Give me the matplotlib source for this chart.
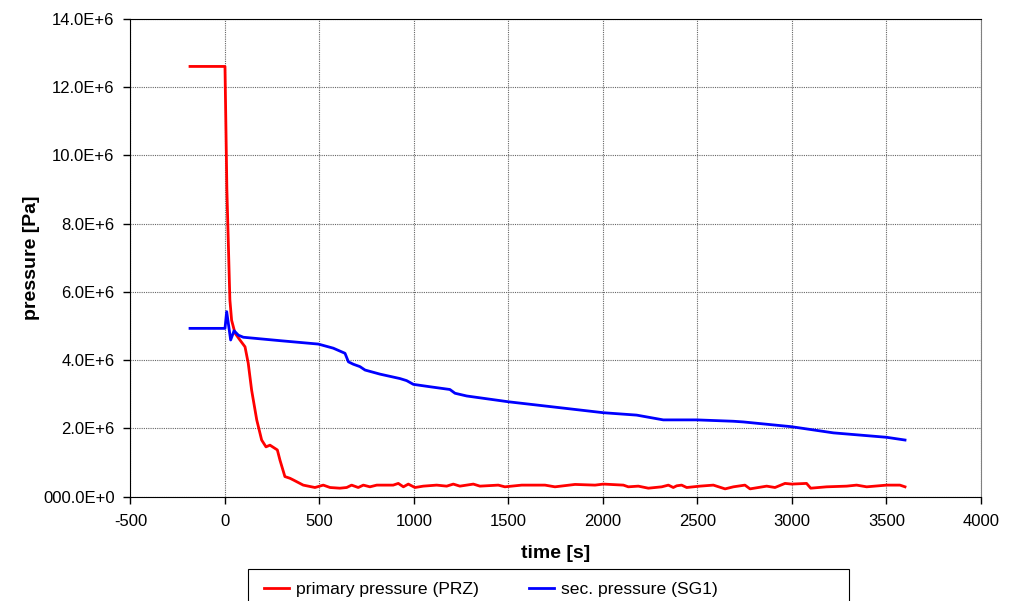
import matplotlib
matplotlib.use("Agg")
import matplotlib.pyplot as plt
from matplotlib.patches import Rectangle

plt.rcParams['font.family'] = ['Liberation Sans', 'DejaVu Sans']

# primary pressure (PRZ), time [s] / pressure [Pa]
prz_time = [-185, 0, 10, 23, 26, 35, 53, 79, 106, 123, 141, 168, 194, 217, 238,
            277, 291, 317, 344, 362, 414, 476, 520, 556, 608, 644, 670, 705, 732,
            767, 803, 855, 890, 917, 944, 970, 1005, 1049, 1120, 1173, 1208, 1243,
            1314, 1349, 1446, 1481, 1570, 1693, 1746, 1852, 1958, 2002, 2108, 2134,
            2187, 2240, 2311, 2346, 2372, 2390, 2416, 2443, 2513, 2584, 2646, 2690,
            2751, 2778, 2866, 2910, 2963, 2998, 3077, 3099, 3183, 3289, 3342, 3395,
            3501, 3571, 3598]
prz_pres = [12.6e6, 12.6e6, 9.0e6, 6.34e6, 5.76e6, 5.17e6, 4.79e6, 4.59e6, 4.39e6,
            3.91e6, 3.12e6, 2.25e6, 1.66e6, 1.46e6, 1.51e6, 1.37e6, 1.07e6, 0.59e6,
            0.54e6, 0.49e6, 0.34e6, 0.27e6, 0.34e6, 0.27e6, 0.25e6, 0.27e6, 0.34e6,
            0.27e6, 0.34e6, 0.29e6, 0.34e6, 0.34e6, 0.34e6, 0.39e6, 0.29e6, 0.37e6,
            0.27e6, 0.31e6, 0.34e6, 0.31e6, 0.37e6, 0.31e6, 0.37e6, 0.31e6, 0.34e6,
            0.29e6, 0.34e6, 0.34e6, 0.29e6, 0.36e6, 0.34e6, 0.37e6, 0.34e6, 0.29e6,
            0.31e6, 0.25e6, 0.29e6, 0.34e6, 0.27e6, 0.32e6, 0.34e6, 0.27e6, 0.31e6,
            0.34e6, 0.23e6, 0.29e6, 0.34e6, 0.23e6, 0.31e6, 0.27e6, 0.39e6, 0.37e6,
            0.39e6, 0.25e6, 0.29e6, 0.31e6, 0.34e6, 0.29e6, 0.34e6, 0.34e6, 0.29e6]

# secondary pressure (SG1)
sg1_time = [-185, 0, 9, 30, 48, 71, 97, 291, 494, 573, 635, 653, 679, 714, 741,
            820, 926, 961, 997, 1085, 1190, 1217, 1279, 1500, 1720, 2002, 2178,
            2319, 2496, 2690, 2743, 2998, 3219, 3501, 3598]
sg1_pres = [4.93e6, 4.93e6, 5.42e6, 4.59e6, 4.86e6, 4.73e6, 4.67e6, 4.57e6, 4.47e6,
            4.35e6, 4.20e6, 3.95e6, 3.88e6, 3.81e6, 3.71e6, 3.59e6, 3.46e6, 3.40e6,
            3.29e6, 3.22e6, 3.14e6, 3.03e6, 2.95e6, 2.78e6, 2.64e6, 2.46e6, 2.39e6,
            2.25e6, 2.25e6, 2.21e6, 2.19e6, 2.05e6, 1.87e6, 1.74e6, 1.66e6]

x_ticks = [-500, 0, 500, 1000, 1500, 2000, 2500, 3000, 3500, 4000]
y_ticks = [0, 2e6, 4e6, 6e6, 8e6, 10e6, 12e6, 14e6]
y_tick_labels = ['000.0E+0', '2.0E+6', '4.0E+6', '6.0E+6', '8.0E+6',
                 '10.0E+6', '12.0E+6', '14.0E+6']

fig = plt.figure(figsize=(10.17, 6.01), dpi=100)
ax = fig.add_axes([0.1283, 0.1735, 0.8363, 0.7955])

ax.plot(prz_time, prz_pres, color='#ff0000', lw=2, label='primary pressure (PRZ)')
ax.plot(sg1_time, sg1_pres, color='#0000ff', lw=2, label='sec. pressure (SG1)')

ax.set_xlim(-500, 4000)
ax.set_ylim(0, 14e6)
ax.set_xticks(x_ticks)
ax.set_xticklabels([str(v) for v in x_ticks])
ax.set_yticks(y_ticks)
ax.set_yticklabels(y_tick_labels)
ax.tick_params(direction='out', length=5, width=1, labelsize=12, color='black')
ax.tick_params(axis='x', pad=7.5)
ax.tick_params(axis='y', pad=6.5)

ax.grid(True, color='0.4', lw=0.8, ls=(0, (1, 1)))
ax.set_axisbelow(True)
for side in ['left', 'bottom', 'top']:
    ax.spines[side].set_color('black')
ax.spines['right'].set_color('0.5')

ax.set_xlabel('time [s]', fontsize=14, fontweight='bold', labelpad=11.5)
ax.set_ylabel('pressure [Pa]', fontsize=14, fontweight='bold', labelpad=2)

# legend box (cut off at the bottom edge like the original)
fig.patches.append(Rectangle((248 / 1017, -0.02), (849 - 248) / 1017, 0.02 + 32 / 601,
                             transform=fig.transFigure, fill=False,
                             edgecolor='black', lw=0.8))
fig.legend(loc='upper left', bbox_to_anchor=(264 / 1017, 1 - 582 / 601),
           ncol=2, fontsize=12.6, frameon=False, borderpad=0, borderaxespad=0,
           handlelength=1.4, handletextpad=0.4, columnspacing=2.9)

fig.savefig('out.png', dpi=100)
